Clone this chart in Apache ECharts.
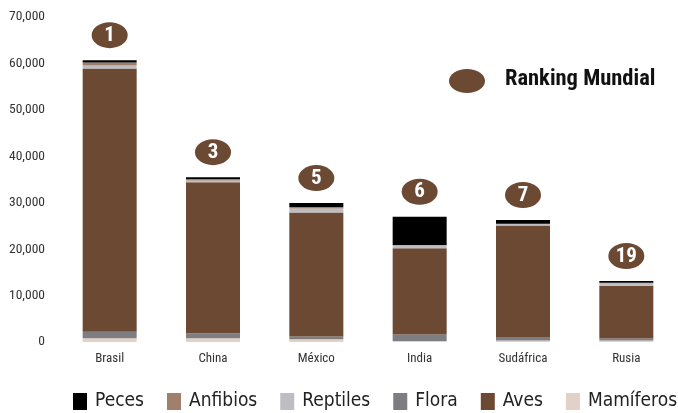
<!DOCTYPE html>
<html><head><meta charset="utf-8">
<script src="https://cdn.jsdelivr.net/npm/echarts@6/dist/echarts.min.js"></script>
<style>html,body{margin:0;padding:0;background:#fff}#c{width:678px;height:413px}</style>
</head><body><div id="c"></div>
<script>
const categories = ['Brasil','China','México','India','Sudáfrica','Rusia'];
const mamiferos = [800, 800, 600, 200, 300, 300];
const flora     = [1400, 1100, 600, 1400, 800, 500];
const aves      = [56700, 32500, 26700, 18600, 24000, 11300];
const reptiles  = [650, 400, 860, 580, 290, 570];
const anfibios  = [650, 300, 300, 100, 100, 100];
const peces     = [500, 400, 860, 6100, 780, 360];
const ranking   = [1, 3, 5, 6, 7, 19];
const legendOrder = ['Peces','Anfibios','Reptiles','Flora','Aves','Mamíferos'];

const FONT = '"Roboto Condensed", sans-serif';
const LFONT = '"DejaVu Sans Condensed", "DejaVu Sans", sans-serif';
const BROWN = '#6B4933';
const totals = categories.map((_, i) => mamiferos[i] + flora[i] + aves[i] + reptiles[i] + anfibios[i] + peces[i]);

function bar(name, data, color, extra) {
  return Object.assign({ name, type: 'bar', stack: 'total', data, barWidth: 54, itemStyle: { color }, emphasis: { disabled: true } }, extra || {});
}

const chart = echarts.init(document.getElementById('c'), null, { renderer: 'canvas' });
chart.setOption({
  animation: false,
  textStyle: { fontFamily: FONT },
  grid: { left: 58, top: 17, width: 639, bottom: 71, containLabel: false },
  xAxis: {
    type: 'category', data: categories,
    axisLine: { show: false }, axisTick: { show: false },
    axisLabel: { fontFamily: FONT, fontSize: 13, color: '#333', margin: 10 }
  },
  yAxis: {
    type: 'value', min: 0, max: 70000, interval: 10000,
    splitLine: { show: false }, axisLine: { show: false }, axisTick: { show: false },
    axisLabel: { fontFamily: FONT, fontSize: 13.5, color: '#333', margin: 13,
      formatter: v => v.toLocaleString('en-US') }
  },
  legend: {
    data: legendOrder, top: 392, left: 73, width: 700, itemGap: 23, itemWidth: 14, itemHeight: 17,
    padding: 0, icon: 'rect', orient: 'horizontal',
    textStyle: { fontFamily: LFONT, fontSize: 19, color: '#222', padding: [0, 0, 0, 3] }
  },
  series: [
    bar('Mamíferos', mamiferos, '#E2D1C6'),
    bar('Flora', flora, '#7E7E82'),
    bar('Aves', aves, BROWN),
    bar('Reptiles', reptiles, '#BEBEC2'),
    bar('Anfibios', anfibios, '#A0806D'),
    bar('Peces', peces, '#000000', {
      label: { show: true, position: 'top', distance: 14, color: '#fff', fontFamily: FONT,
        fontWeight: 'bold', fontSize: 21, formatter: p => String(ranking[p.dataIndex]) }
    }),
    {
      name: 'Ranking', type: 'scatter', data: totals, symbol: 'circle', symbolSize: [36, 26],
      symbolOffset: [0, -25], itemStyle: { color: BROWN, opacity: 1 }, z: 1, silent: true,
      emphasis: { disabled: true }
    }
  ],
  graphic: [
    { type: 'ellipse', shape: { cx: 467, cy: 81, rx: 18, ry: 12 }, style: { fill: BROWN } },
    { type: 'text', left: 505, top: 68, style: { text: 'Ranking Mundial', fill: '#111',
      font: 'bold 22.5px ' + FONT } }
  ]
});
</script></body></html>
